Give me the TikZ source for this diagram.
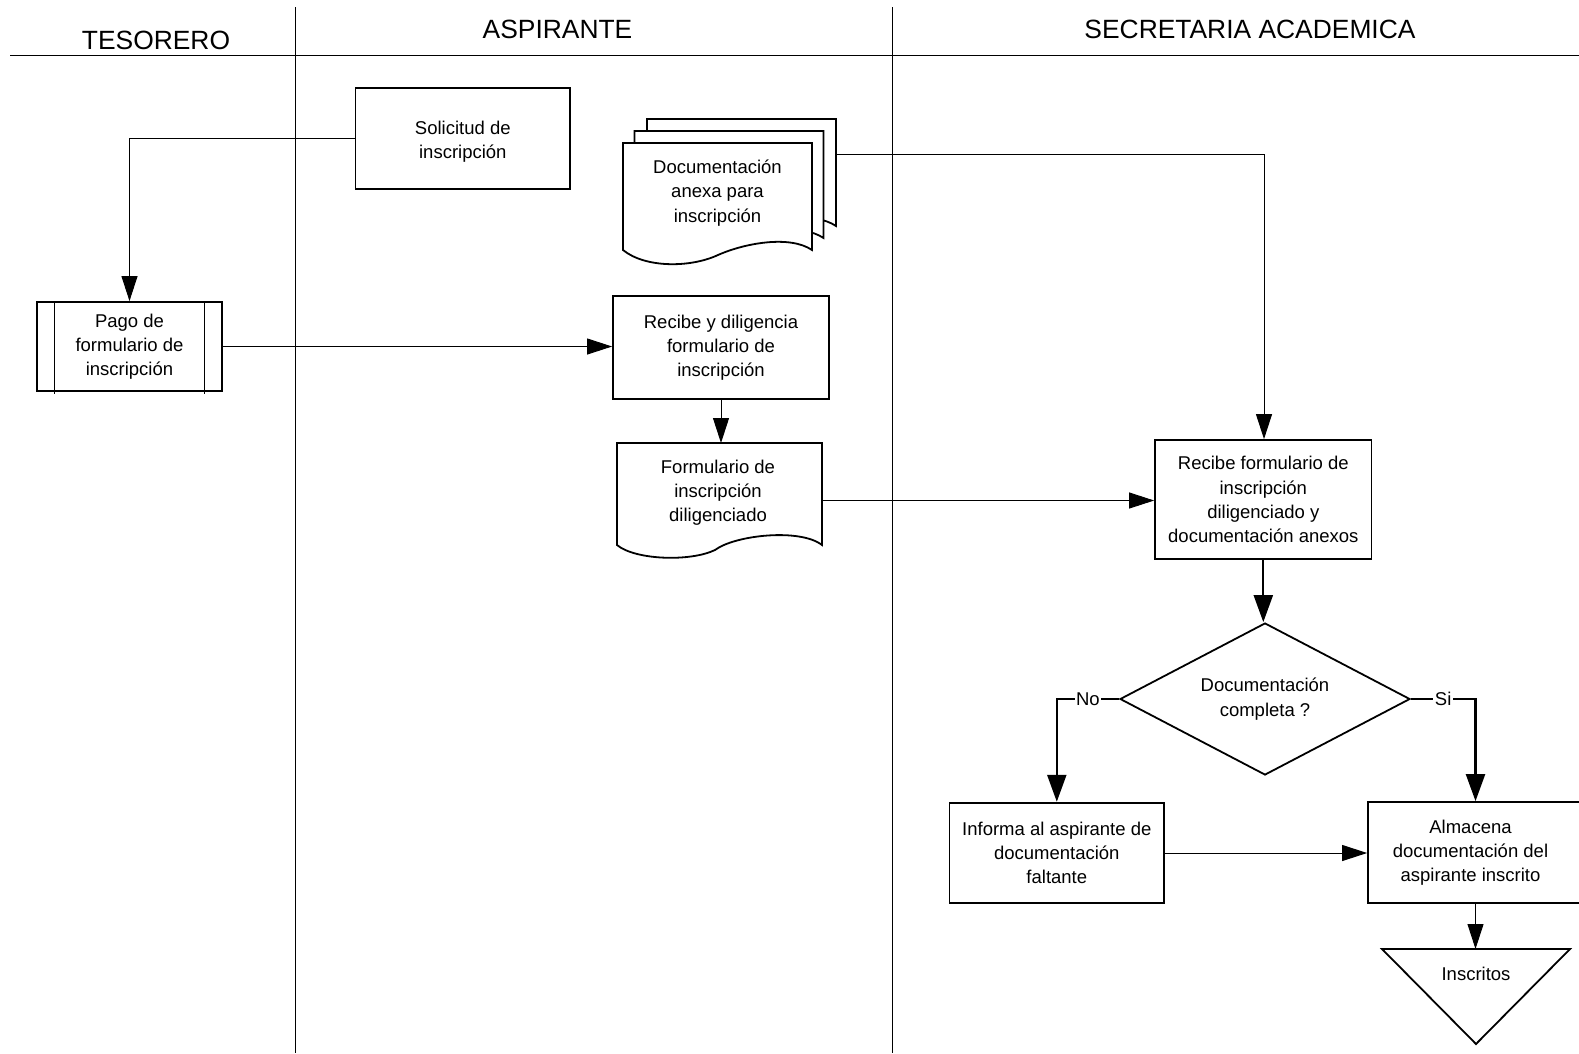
\documentclass[tikz,border=0pt]{standalone}
\usepackage{fontspec}
\setmainfont{Liberation Sans}
\usetikzlibrary{arrows.meta,shapes.geometric}
\newcommand\bodyfont{\fontsize{18.5}{24.2}\selectfont}
\newcommand\headfont{\fontsize{26.4}{30}\selectfont}
\tikzset{
  boxnode/.style={draw, line width=1.8pt, align=center, font=\bodyfont, inner sep=0pt},
  ghost/.style={inner sep=0pt, outer sep=0pt},
  txt/.style={align=center, font=\bodyfont, inner sep=0pt},
  shapeline/.style={draw, line width=1.8pt, fill=white, line join=miter},
  thinconn/.style={line width=0.95pt, -{Triangle[length=25pt,width=16pt]}},
  thickconn/.style={line width=2.3pt, -{Triangle[length=27pt,width=19pt]}},
  lane/.style={line width=0.8pt},
  head/.style={font=\headfont, anchor=base},
  branch/.style={font=\bodyfont, fill=white, inner sep=1.5pt},
}
\begin{document}
\begin{tikzpicture}[x=1pt,y=-1pt]
\useasboundingbox (0,0) rectangle (1579,1053);
% lanes
\draw[line width=1.8pt] (10,55.5) -- (1579,55.5);
\draw[lane] (295,7) -- (295,1053);
\draw[lane] (892,7) -- (892,1053);
\node[head] (hT) at (156,49) {TESORERO};
\node[head] (hA) at (557.5,38) {ASPIRANTE};
\node[head] (hS) at (1250,38) {SECRETARIA ACADEMICA};

% Solicitud de inscripcion
\node[boxnode, minimum width=214.5pt, minimum height=101.7pt] (sol) at (462.8,138.5) {};
\node[txt] (soltxt) at (462.8,141.5) {Solicitud de\\inscripción};

% multi-document
\foreach \dx/\dy in {24/-24,11.5/-12,0/0}{
  \draw[shapeline, shift={(\dx,\dy)}] (623,250) -- (623,143) -- (812,143) -- (812,250)
     .. controls (790,235) and (745,243) .. (718,255)
     .. controls (690,268) and (645,268) .. (623,250) -- cycle;
}
\node[txt] (docs) at (717.5,193) {Documentación\\anexa para\\inscripción};
\coordinate (docsout) at (836,154);

% Pago
\node[boxnode, minimum width=185pt, minimum height=89pt] (pago) at (129.5,346.5) {Pago de\\formulario de\\inscripción};
\draw[line width=1.1pt] ([xshift=18pt]pago.north west) -- ([xshift=18pt,yshift=-2pt]pago.south west);
\draw[line width=1.1pt] ([xshift=-18pt]pago.north east) -- ([xshift=-18pt,yshift=-2pt]pago.south east);

% Recibe y diligencia
\node[boxnode, minimum width=216pt, minimum height=102.7pt] (recD) at (721,347.5) {Recibe y diligencia\\formulario de\\inscripción};

% Formulario document
\node[ghost, minimum width=205pt, minimum height=115pt] (form) at (719.5,500.5) {};
\draw[shapeline] (822,545) -- (822,443) -- (617,443) -- (617,545)
   .. controls (635,560) and (690,562) .. (715,550)
   .. controls (735,535) and (800,528) .. (822,545) -- cycle;
\node[txt] (formtxt) at (718,493) {Formulario de\\inscripción\\diligenciado};

% Recibe formulario
\node[boxnode, minimum width=216.5pt, minimum height=119pt] (recF) at (1263.3,499.5) {Recibe formulario de\\inscripción\\diligenciado y\\documentación anexos};

% Decision
\node[draw, line width=1.8pt, diamond, shape aspect=1.9, inner sep=0pt, minimum width=290pt, minimum height=152pt, align=center, font=\bodyfont] (dia) at (1265,699) {Documentación\\completa ?};

% Informa
\node[boxnode, minimum width=214.6pt, minimum height=100.7pt] (inf) at (1056.8,853) {Informa al aspirante de\\documentación\\faltante};

% Almacena
\node[boxnode, minimum width=215pt, minimum height=101pt] (alm) at (1475.5,852.5) {\hspace*{-10pt}Almacena\\\hspace*{-10pt}documentación del\\\hspace*{-10pt}aspirante inscrito};

% Inscritos (merge triangle)
\node[ghost, minimum width=188pt, minimum height=95pt] (fin) at (1476,996.5) {};
\draw[shapeline] (fin.north west) -- (fin.north east) -- (fin.south) -- cycle;
\node[txt] (fintxt) at (1476,974) {Inscritos};

% connectors
\draw[thinconn] (sol.west) -| (pago.north);
\draw[thinconn] (pago.east) -- (pago.east -| recD.west);
\draw[thinconn] (recD.south) -- (recD.south |- form.north);
\draw[thinconn] (docsout) -| ([xshift=0.7pt]recF.north);
\draw[thinconn] (form.east) -- (form.east -| recF.west);
\draw[thickconn] (recF.south) -- (recF.south |- dia.north);
\draw[thickconn] (dia.west) -- node[branch]{No} (inf.north |- dia.west) -- (inf.north);
\draw[thickconn] (dia.east) -- node[branch]{Si} (alm.north |- dia.east) -- (alm.north);
\draw[thinconn] (inf.east) -- (inf.east -| alm.west);
\draw[thinconn] (alm.south) -- (alm.south |- fin.north);
\end{tikzpicture}
\end{document}
